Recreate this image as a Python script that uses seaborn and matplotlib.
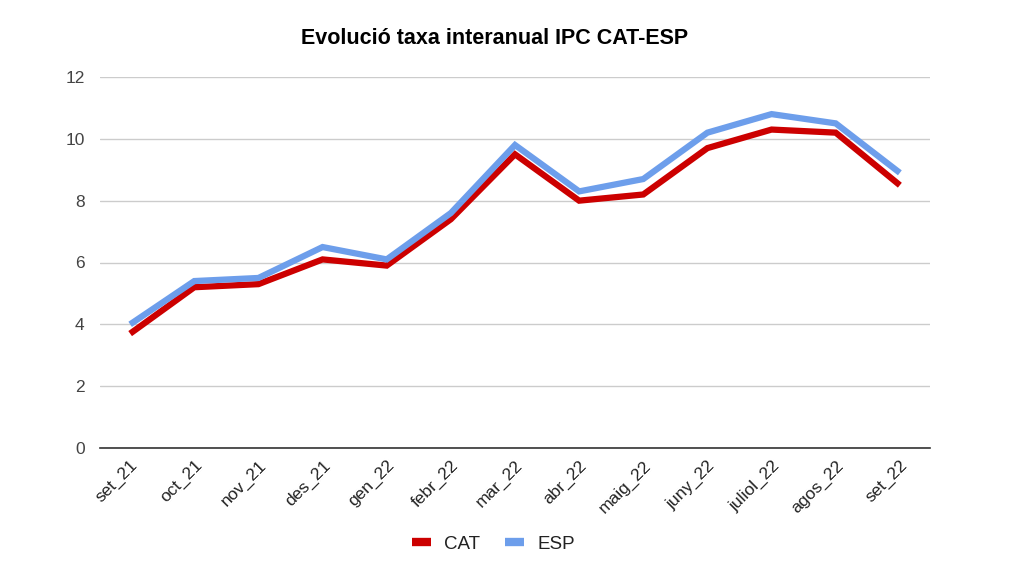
import matplotlib
matplotlib.use("Agg")
import matplotlib.pyplot as plt
import seaborn as sns
import pandas as pd
from matplotlib.lines import Line2D

months = ["set_21", "oct_21", "nov_21", "des_21", "gen_22", "febr_22", "mar_22",
          "abr_22", "maig_22", "juny_22", "juliol_22", "agos_22", "set_22"]
cat = [3.7, 5.2, 5.3, 6.1, 5.9, 7.4, 9.5, 8.0, 8.2, 9.7, 10.3, 10.2, 8.5]
esp = [4.0, 5.4, 5.5, 6.5, 6.1, 7.6, 9.8, 8.3, 8.7, 10.2, 10.8, 10.5, 8.9]

sns.set_theme(style="white")
plt.rcParams['font.family'] = ['Liberation Sans', 'DejaVu Sans']

df = pd.DataFrame({"mes": months * 2, "idx": list(range(len(months))) * 2,
                   "valor": cat + esp,
                   "serie": ["CAT"] * len(months) + ["ESP"] * len(months)})

fig = plt.figure(figsize=(10.24, 5.76), dpi=100)
ax = fig.add_axes([100/1024, 1-448/576, 830/1024, 371/576])

sns.lineplot(data=df, x="idx", y="valor", hue="serie",
             palette={"CAT": "#cc0000", "ESP": "#6d9eeb"},
             linewidth=4.5, ax=ax, legend=False, sort=False)
for ln in ax.get_lines():
    ln.set_solid_capstyle("butt")
    ln.set_solid_joinstyle("miter")

ax.set_xlim(-0.47, 12.47)
ax.set_ylim(0, 12)
ax.set_yticks([0, 2, 4, 6, 8, 10, 12])
ax.set_xticks(range(len(months)))
ax.set_xticklabels(months, rotation=45, ha="right", rotation_mode="anchor",
                   fontsize=12.5, color="#222222")
ax.tick_params(axis="y", labelsize=12.5, length=0, pad=11)
ax.tick_params(axis="x", length=0, pad=7)
for lbl in ax.get_yticklabels():
    lbl.set_color("#444444")
ax.grid(axis="y", color="#cccccc", linewidth=1)
ax.set_axisbelow(True)
for s in ["top", "right", "left"]:
    ax.spines[s].set_visible(False)
ax.spines["bottom"].set_color("#333333")
ax.spines["bottom"].set_linewidth(1.2)
ax.set_xlabel("")
ax.set_ylabel("")

fig.text(0.483, 1-38/576, "Evolució taxa interanual IPC CAT-ESP",
         ha="center", va="center", fontsize=15.5, fontweight="bold", color="#000000")

handles = [Line2D([0], [0], color="#cc0000", lw=6, solid_capstyle="butt"),
           Line2D([0], [0], color="#6d9eeb", lw=6, solid_capstyle="butt")]
fig.legend(handles, ["CAT", "ESP"], loc="center", bbox_to_anchor=(0.482, 1-544/576),
           ncol=2, frameon=False, fontsize=13.5, handlelength=1.0, handletextpad=0.7,
           columnspacing=1.35, labelcolor="#222222")

fig.savefig("out.png", dpi=100)
